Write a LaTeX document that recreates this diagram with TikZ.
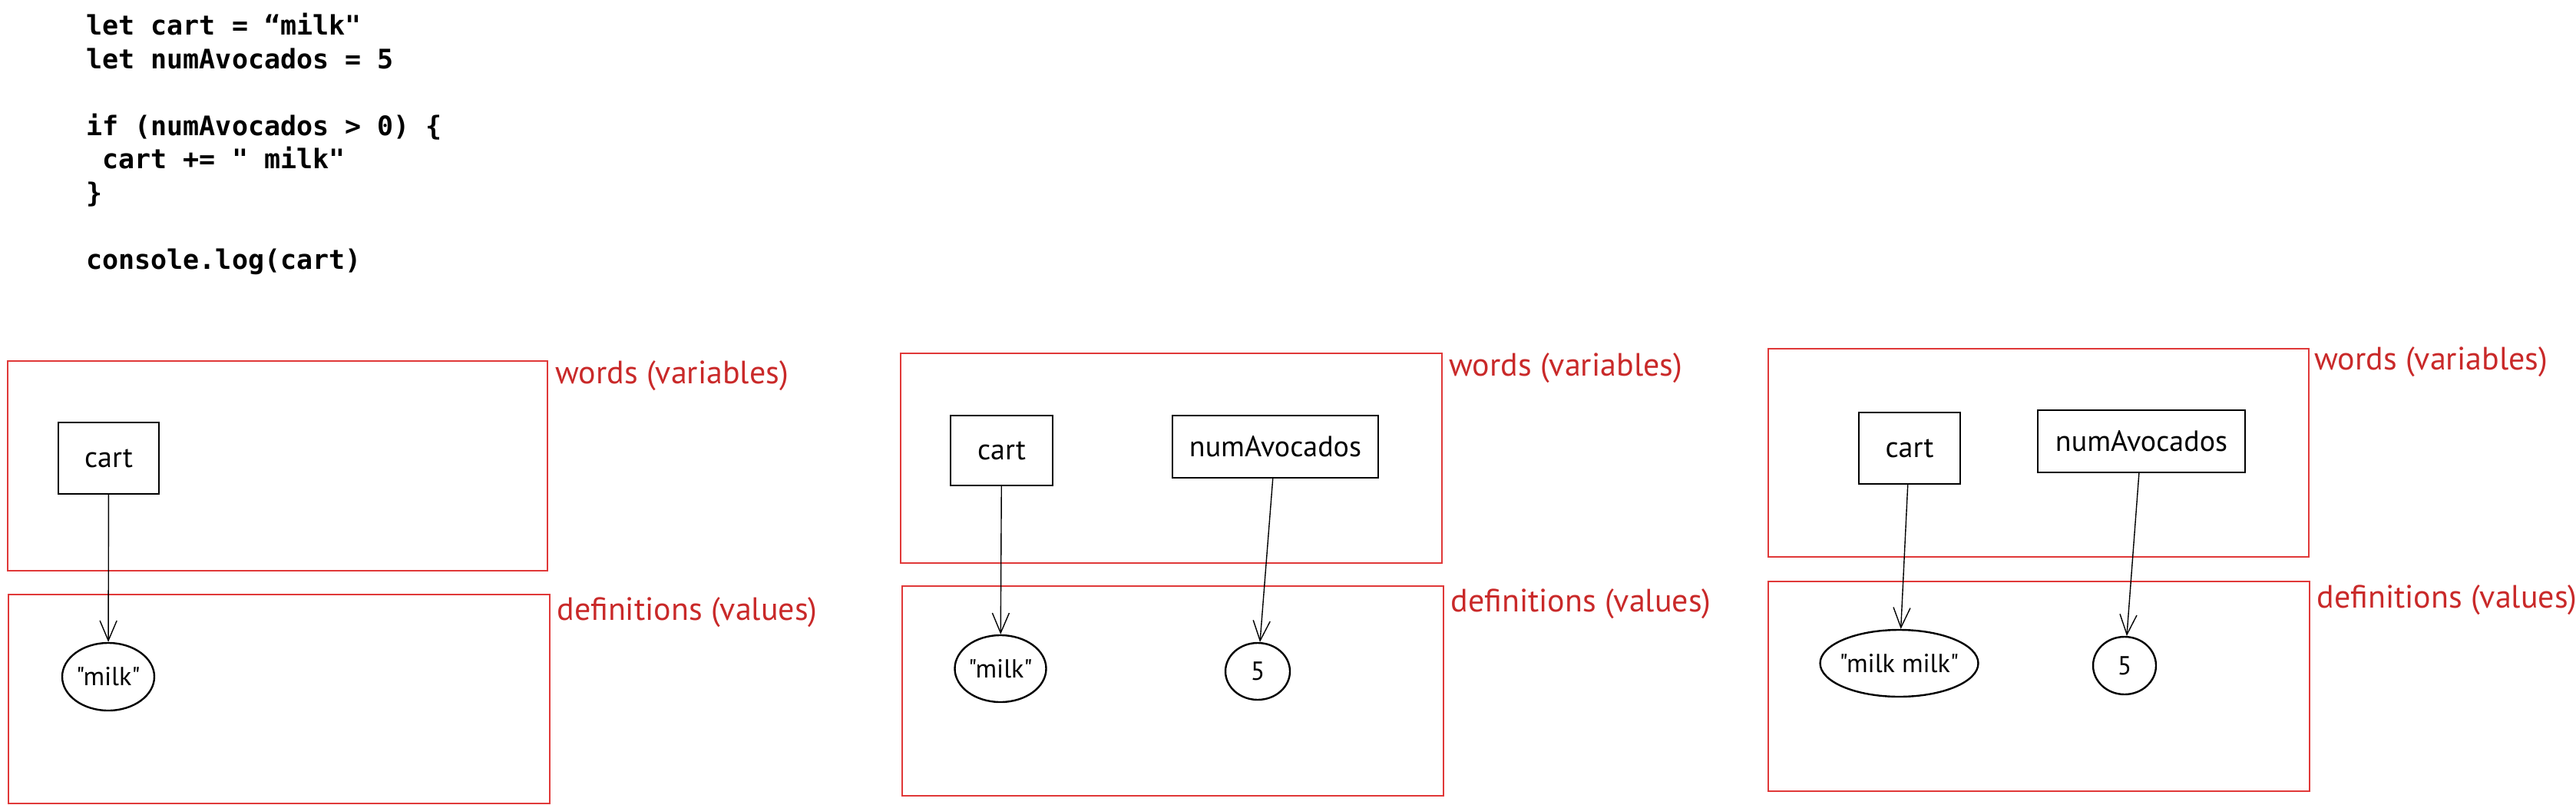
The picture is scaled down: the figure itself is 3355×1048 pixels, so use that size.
\documentclass[tikz,border=0pt]{standalone}
\usepackage{fontspec}
\usepackage{tikz}
\usetikzlibrary{arrows.meta}
\usetikzlibrary{shapes.geometric}
\newfontfamily\codefont{DejaVu Sans Mono}
\newfontfamily\handfont{PT Sans}
\tikzset{panel/.style = {draw=panelred, line width=1pt}}
\tikzset{var/.style = {draw, line width=1.2pt, inner sep=0,
                       font=\handfont\fontsize{19}{19}\selectfont}}
\tikzset{val/.style = {draw, ellipse, line width=1.2pt, inner sep=0,
                       font=\handfont\fontsize{17}{17}\selectfont}}
\tikzset{tag/.style = {anchor=west, text=tagred, inner sep=0,
                       font=\handfont\fontsize{21}{21}\selectfont}}
\tikzset{ref/.style = {-{Straight Barb[length=13pt, width=11pt]}, line width=0.7pt}}
\definecolor{tagred}{rgb}{0.79, 0.16, 0.16}
\definecolor{panelred}{rgb}{0.88, 0.22, 0.22}

\begin{document}
\begin{tikzpicture}[x=0.5pt, y=-0.5pt]
    \useasboundingbox (0, 0) rectangle (3355, 1048);

    \node [anchor=north west, inner sep=0, align=left,
           font=\codefont\bfseries\fontsize{17.5}{21.75}\selectfont] (code) at (112, 17)
          {let cart = “milk"\\let numAvocados = 5\\[21.75pt]if (numAvocados > 0) \{\\\mbox{}\ cart += " milk"\\\}\\[21.75pt]console.log(cart)};

    % first step
    \draw [panel] (10, 470) rectangle (713, 743);
    \draw [panel] (11, 774) rectangle (716, 1046);
    \node [tag] (wordsA) at (723, 489) {words (variables)};
    \node [tag] (defsA) at (725, 797) {definitions (values)};
    \node [var, minimum width=65.5pt, minimum height=46.5pt] (cartA) at (141.5, 596.5) {cart};
    \node [val, minimum width=60pt, minimum height=44pt] (milkA) at (141, 881) {"milk"};
    \draw [ref] (cartA) -- (milkA);

    % second step
    \draw [panel] (1173, 460) rectangle (1878, 733);
    \draw [panel] (1175, 763) rectangle (1880, 1036);
    \node [tag] (wordsB) at (1887, 479) {words (variables)};
    \node [tag] (defsB) at (1889, 786) {definitions (values)};
    \node [var, minimum width=66.5pt, minimum height=45.5pt] (cartB) at (1304.5, 586.5) {cart};
    \node [var, minimum width=134pt, minimum height=40.5pt] (numB) at (1661, 581.5) {numAvocados};
    \node [val, minimum width=59.5pt, minimum height=43.5pt] (milkB) at (1303, 870.5) {"milk"};
    \node [val, minimum width=42pt, minimum height=37pt] (fiveB) at (1638, 874) {5};
    \draw [ref] (cartB) -- (milkB);
    \draw [ref] (numB) -- (fiveB);

    % third step
    \draw [panel] (2303, 454) rectangle (3007, 725);
    \draw [panel] (2303, 757) rectangle (3008, 1030);
    \node [tag] (wordsC) at (3014, 471) {words (variables)};
    \node [tag] (defsC) at (3017, 781) {definitions (values)};
    \node [var, minimum width=66pt, minimum height=46.5pt] (cartC) at (2487, 583.5) {cart};
    \node [var, minimum width=135pt, minimum height=40.5pt] (numC) at (2789, 574.5) {numAvocados};
    \node [val, inner xsep=-2.5pt, minimum height=43.5pt] (milkC) at (2473.5, 863.5) {"milk milk"};
    \node [val, minimum width=41pt, minimum height=37.5pt] (fiveC) at (2767, 866.5) {5};
    \draw [ref] (cartC) -- (milkC);
    \draw [ref] (numC) -- (fiveC);
  \end{tikzpicture}
\end{document}
